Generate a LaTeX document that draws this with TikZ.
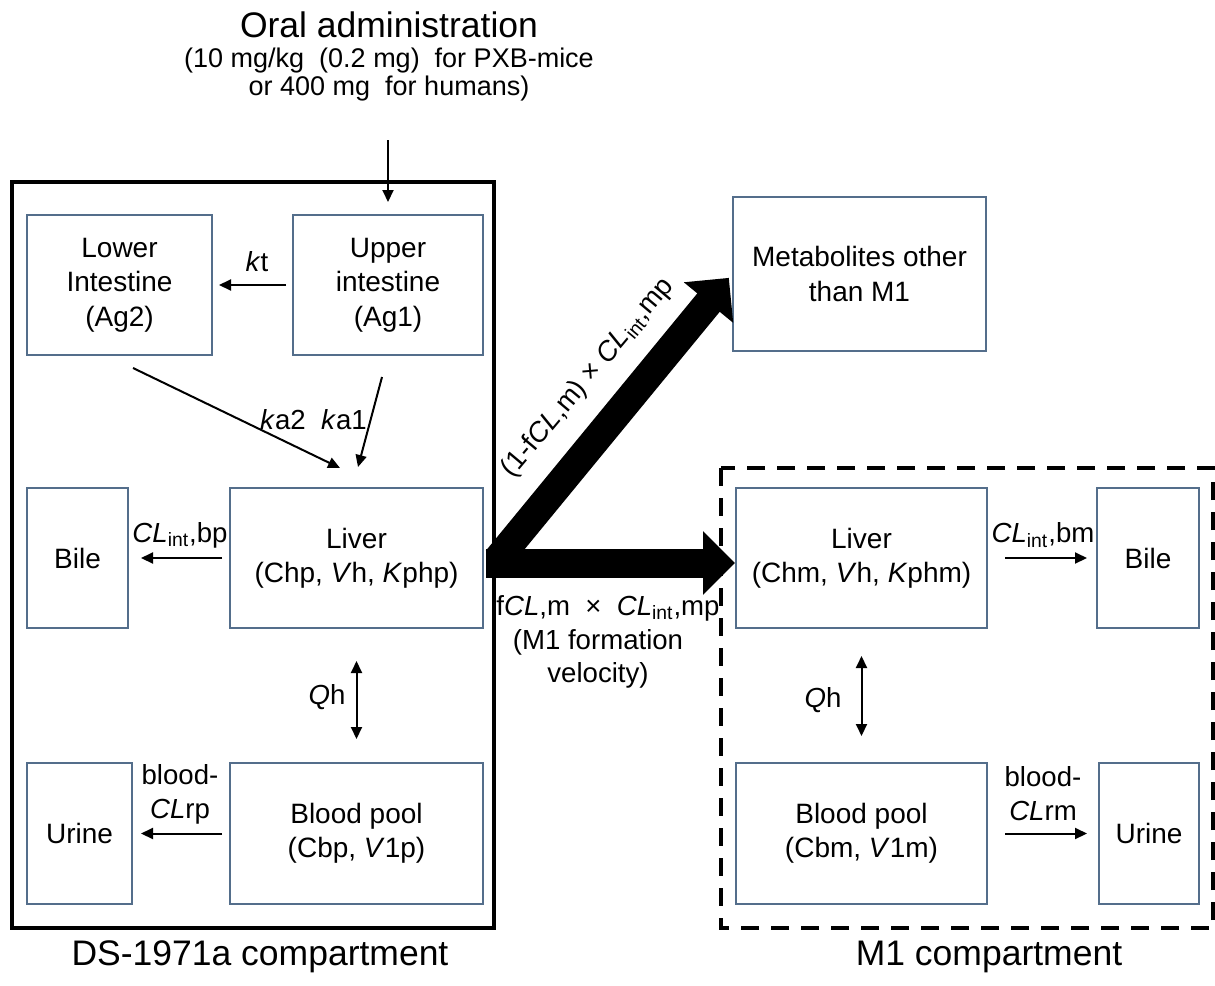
\documentclass[tikz,border=0pt]{standalone}
\usepackage{fontspec}
\setmainfont{Liberation Sans}
\usetikzlibrary{arrows.meta,calc}
\definecolor{boxc}{RGB}{84,110,139}
\begin{document}
\begin{tikzpicture}[x=0.5pt,y=-0.5pt,
  box/.style={draw=boxc,line width=1pt,align=center,inner sep=0pt,font=\fontsize{14}{17.2}\selectfont},
  lbl/.style={align=center,inner sep=0pt,font=\fontsize{13.8}{17}\selectfont},
  big/.style={inner sep=0pt,font=\fontsize{17.75}{21}\selectfont},
  thinarr/.style={line width=1pt,-{Triangle[length=6pt,width=5.5pt]}},
  dblarr/.style={line width=1pt,{Triangle[length=6pt,width=5.5pt]}-{Triangle[length=6pt,width=5.5pt]}},
  thickarr/.style={line width=14.5pt,-{Triangle[length=16pt,width=31pt]}},
  frame/.style={line width=2.25pt},
  dframe/.style={line width=2pt,dash pattern=on 9pt off 6pt}]
\useasboundingbox (0,0) rectangle (1215,985);

% titles
\node[big] (t1) at (389,25) {Oral administration};
\node[lbl,font=\fontsize{13.5}{14}\selectfont] (t2) at (389,75) {(10 mg/kg\ \ (0.2 mg)\ \ for PXB-mice\\or 400 mg\ \ for humans)};
\coordinate (oa) at (388,140);

% frames
\draw[frame] (12,182) rectangle (494,928);
\draw[dframe] (721,468) rectangle (1213,928);

% left compartment boxes
\node[box,minimum width=92.5pt,minimum height=70pt] (lowI) at (119.5,285) {Lower\\Intestine\\(Ag2)};
\node[box,minimum width=95pt,minimum height=70pt] (upI) at (388,285) {Upper\\intestine\\(Ag1)};
\node[box,minimum width=50.5pt,minimum height=70pt] (bileL) at (77.5,558) {Bile};
\node[box,minimum width=126.5pt,minimum height=70pt] (livL) at (356.5,558) {Liver\\(Chp,\ \textit{V}h,\ \textit{K}php)};
\node[box,minimum width=52.5pt,minimum height=70.5pt] (urL) at (79.5,833.5) {Urine};
\node[box,minimum width=126.5pt,minimum height=70.5pt] (bpL) at (356.5,833.5) {Blood pool\\(Cbp,\ \textit{V}1p)};

% right boxes
\node[box,minimum width=126.5pt,minimum height=77pt] (met) at (859.5,274) {Metabolites\ other\\than\ M1};
\node[box,minimum width=125.5pt,minimum height=70pt] (livR) at (861.5,558) {Liver\\(Chm,\ \textit{V}h,\ \textit{K}phm)};
\node[box,minimum width=51pt,minimum height=70pt] (bileR) at (1148,558) {Bile};
\node[box,minimum width=125.5pt,minimum height=70.5pt] (bpR) at (861.5,833.5) {Blood pool\\(Cbm,\ \textit{V}1m)};
\node[box,minimum width=50pt,minimum height=70.5pt] (urR) at (1149,833.5) {Urine};

% thin arrows left
\draw[thinarr,shorten >=6pt] (oa) -- (upI.north);
\draw[thinarr,shorten <=3pt,shorten >=3pt] (upI.west) -- (lowI.east);
\node[lbl] (kt) at (257,262) {\textit{k}t};
\coordinate (a2s) at (133,368);
\coordinate (a2e) at (340,468);
\coordinate (a1s) at (382,377);
\coordinate (a1e) at (358,467);
\draw[thinarr] (a2s) -- (a2e);
\draw[thinarr] (a1s) -- (a1e);
\node[lbl] (ka2) at (283,420) {\textit{k}a2};
\node[lbl] (ka1) at (344,420) {\textit{k}a1};
\draw[thinarr,shorten <=3.5pt,shorten >=6pt] (livL.west) -- (bileL.east);
\node[lbl] (clbp) at (180,535) {\textit{CL}\textsubscript{int},bp};
\draw[dblarr,shorten <=16pt,shorten >=11.5pt] (livL.south) -- (bpL.north);
\node[lbl] (qhL) at (327,697) {\textit{Q}h};
\draw[thinarr,shorten <=3.5pt,shorten >=4pt] (bpL.west) -- (urL.east);
\node[lbl] (clrp) at (180,794) {blood-\\\textit{CL}rp};

% thin arrows right
\draw[thinarr,shorten <=8.5pt,shorten >=4.5pt] (livR.east) -- (bileR.west);
\node[lbl] (clbm) at (1043,535) {\textit{CL}\textsubscript{int},bm};
\draw[dblarr,shorten <=13.5pt,shorten >=13pt] (livR.south) -- (bpR.north);
\node[lbl] (qhR) at (823,700) {\textit{Q}h};
\draw[thinarr,shorten <=8.5pt,shorten >=5.5pt] (bpR.east) -- (urR.west);
\node[lbl] (clrm) at (1043,794) {blood-\\\textit{CL}rm};

% thick arrows
\coordinate (j1) at (486,563);
\coordinate (j2) at (497,560);
\draw[thickarr] (j1) -- (j1 -| livR.west);
\draw[thickarr,shorten >=2.5pt] (j2) -- (met.west);
\node[lbl,rotate=50] (diag) at (588,378) {(1-f\textit{CL},m) × \textit{CL}\textsubscript{int},mp};
\node[lbl] (form1) at (608,608) {f\textit{CL},m\ \ ×\ \ \textit{CL}\textsubscript{int},mp};
\node[lbl] (form2) at (598,642) {(M1 formation};
\node[lbl] (form3) at (598,675) {velocity)};

% compartment labels
\node[big] (dsl) at (260,957) {DS-1971a compartment};
\node[big] (m1l) at (989,957) {M1 compartment};
\end{tikzpicture}
\end{document}
